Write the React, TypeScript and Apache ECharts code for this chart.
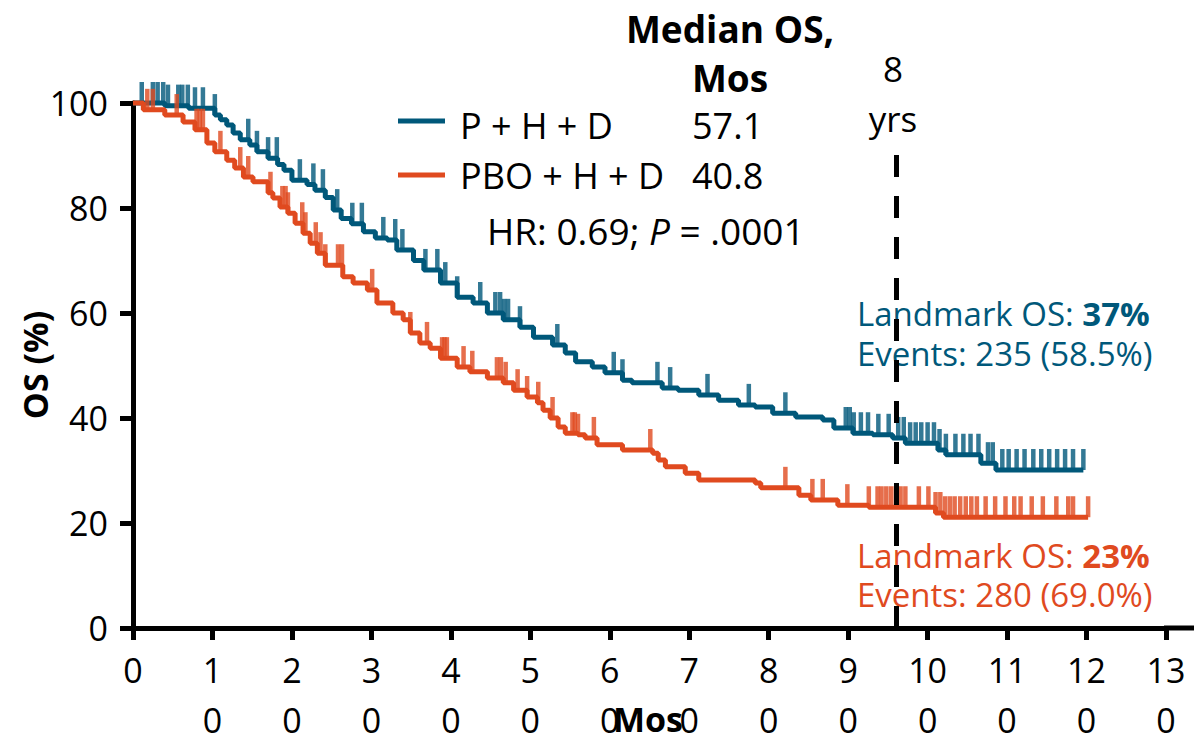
import React, { useEffect, useRef } from "react";
import * as echarts from "echarts";

const FONT = "Open Sans";
const TEAL = "#00587A";
const ORANGE = "#E04A1F";

const xTicks = [0, 10, 20, 30, 40, 50, 60, 70, 80, 90, 100, 110, 120, 130];
const yTicks = [0, 20, 40, 60, 80, 100];

// P + H + D step curve
const tealTime = [0, 4, 7, 10.3, 11, 11.8, 12.6, 13.5, 14.7, 15.6, 17, 18.2, 19, 20, 21.9, 22.9, 24.2, 25.2, 26.2, 27.5, 29, 30.5, 32, 33.2, 35.3, 36.6, 38.7, 40.8, 42.8, 44.6, 46.6, 48.7, 50.4, 52.8, 54.4, 55.7, 57.8, 59.4, 61.6, 62.8, 66.6, 68.6, 71.2, 73.7, 76.2, 78.3, 80.5, 83.4, 86.8, 88.2, 90.6, 93.1, 95.6, 97.2, 101.3, 102.3, 106.7, 108.6, 119.6];
const tealSurv = [100, 99.5, 99, 97.7, 96.8, 95.8, 94.3, 93, 92, 90.7, 89.5, 88.3, 87.2, 85.3, 84.5, 83.4, 82, 79.6, 78, 77, 75.5, 74.3, 73.9, 72, 70, 68.2, 65.7, 63, 61.9, 60, 58.7, 57.3, 55.4, 53.9, 52.4, 50.7, 49.7, 48.6, 47.2, 46.7, 45.7, 45.3, 44.4, 43.4, 42.5, 42.1, 40.9, 40.2, 39.6, 38.1, 37.1, 36.8, 36.2, 35.2, 33.9, 33, 31.4, 30.1, 30.1];
const tealCensor = [1.1, 2.5, 3.1, 3.8, 4.4, 5.7, 6.2, 6.9, 7.8, 8.8, 10.3, 14.5, 15.6, 17, 18.1, 21, 22.7, 23.9, 25.7, 27.6, 28.8, 31.5, 33, 33.9, 36.8, 38.3, 39.3, 40.8, 43.7, 45.6, 46.2, 46.7, 47.2, 48.7, 53.4, 60.5, 61.6, 66, 67.6, 72.3, 77.5, 82.1, 89.7, 90.2, 90.7, 91.6, 92.5, 93.8, 95.1, 96.3, 97, 97.8, 98.5, 99.2, 100, 100.8, 101.5, 102.3, 103.5, 104.5, 105.4, 106.4, 107.6, 108.2, 109.4, 110.2, 111.2, 112.2, 113.3, 114.3, 115.3, 116.3, 117.3, 118.3, 119.6];

// PBO + H + D step curve
const orangeTime = [0, 1.3, 4, 6.3, 7.8, 9.3, 10.3, 11.8, 12.8, 13.9, 15.1, 17, 17.6, 18.5, 19.5, 20.4, 21.4, 22.3, 23.2, 24.2, 26.4, 27.7, 29.5, 30.7, 32.7, 34, 34.9, 36.1, 37.4, 38.7, 40.8, 42.4, 44.6, 46.6, 47.9, 49.6, 50.9, 51.6, 52.5, 53.5, 54.4, 56, 56.9, 58.4, 61.6, 65.4, 66.1, 67, 69.5, 71.2, 78.3, 79, 83.8, 85.3, 88.7, 92.6, 101, 102, 120.2];
const orangeSurv = [100, 98.7, 97.7, 96.4, 94.9, 92.4, 90.7, 89.1, 87.6, 85.9, 85, 82.9, 81.9, 80.2, 79, 77.1, 75.2, 73.3, 71.4, 69.1, 66.9, 65.7, 64.4, 61.9, 60, 58.7, 56.2, 54.3, 53.3, 51.4, 49.7, 48.8, 47.6, 46.7, 45.3, 44, 42.9, 41.5, 40, 38.3, 37.1, 36.8, 36.2, 34.9, 33.9, 33.3, 32, 30.7, 29.5, 28.2, 27.6, 26.7, 25.3, 24.4, 23.4, 23, 21.9, 21.1, 21.1];
const orangeCensor = [1.8, 2.5, 5.5, 8, 8.4, 8.8, 11, 13.5, 14.5, 17.3, 18.8, 19.2, 19.5, 21.3, 21.7, 23, 23.6, 24.2, 25.8, 26.3, 30.1, 34.9, 37, 38.9, 39.2, 39.5, 41.6, 42.7, 45.8, 46.3, 46.9, 48.4, 49.6, 51, 52.8, 55.3, 55.6, 56, 58, 65.1, 82.1, 85.5, 86.8, 89.9, 92.6, 93.7, 94.2, 94.8, 95.4, 96, 96.6, 97.2, 98.9, 100.1, 101, 101.6, 102.2, 102.8, 103.4, 104.1, 104.8, 105.5, 106.2, 107.3, 108.5, 109.8, 110.9, 111.7, 113.1, 114.5, 116.2, 117.7, 118.3, 120.2];

const landmarkMonth = 96;
const landmarkTop = 91.5;

function survAt(times: number[], surv: number[], t: number) {
  let s = surv[0];
  for (let i = 0; i < times.length; i++) {
    if (times[i] <= t) s = surv[i];
  }
  return s;
}

export default function App() {
  const ref = useRef<HTMLDivElement>(null);
  useEffect(() => {
    if (!ref.current) return;
    const chart = echarts.init(ref.current, undefined, { renderer: "svg" });
    const tealLine = tealTime.map((t, i) => [t, tealSurv[i]]);
    const orangeLine = orangeTime.map((t, i) => [t, orangeSurv[i]]);
    const tealMarks = tealCensor.map((t) => [t, survAt(tealTime, tealSurv, t)]);
    const orangeMarks = orangeCensor.map((t) => [t, survAt(orangeTime, orangeSurv, t)]);
    const tickStyle = { fontFamily: FONT, fontSize: 34, color: "#000" };
    const txt = (text: string, x: number, y: number, extra: any = {}, rot = 0) => ({
      type: "text",
      x,
      y,
      rotation: rot,
      style: {
        text,
        fontFamily: FONT,
        fontSize: 36,
        fill: "#000",
        align: "left",
        verticalAlign: "middle",
        ...extra,
      },
    });
    chart.setOption({
      animation: false,
      grid: { left: 133, right: 28, top: 103, bottom: 112, outerBoundsMode: "none", containLabel: false },
      xAxis: {
        type: "value",
        min: xTicks[0],
        max: xTicks[xTicks.length - 1],
        interval: 10,
        axisLine: { show: true, lineStyle: { color: "#000", width: 5 } },
        axisTick: { show: true, length: 12, lineStyle: { color: "#000", width: 5 } },
        axisLabel: {
          ...tickStyle,
          margin: 17,
          lineHeight: 50,
          formatter: (v: number) => {
            const s = String(v);
            return s.length < 2 ? s : s.slice(0, -1) + "\n" + s.slice(-1);
          },
        },
        splitLine: { show: false },
      },
      yAxis: {
        type: "value",
        min: yTicks[0],
        max: yTicks[yTicks.length - 1],
        interval: 20,
        axisLine: { show: true, lineStyle: { color: "#000", width: 5 } },
        axisTick: { show: true, length: 13, lineStyle: { color: "#000", width: 5 } },
        axisLabel: { ...tickStyle, margin: 25 },
        splitLine: { show: false },
      },
      series: [
        {
          type: "line",
          name: "P + H + D",
          step: "end",
          data: tealLine,
          showSymbol: false,
          clip: false,
          lineStyle: { color: TEAL, width: 5 },
          itemStyle: { color: TEAL },
          z: 2,
        },
        {
          type: "scatter",
          data: tealMarks,
          symbol: "rect",
          symbolSize: [4.5, 21],
          symbolOffset: [0, -10.5],
          clip: false,
          itemStyle: { color: TEAL },
          z: 2,
        },
        {
          type: "line",
          name: "PBO + H + D",
          step: "end",
          data: orangeLine,
          showSymbol: false,
          clip: false,
          lineStyle: { color: ORANGE, width: 5 },
          itemStyle: { color: ORANGE },
          z: 3,
          markLine: {
            silent: true,
            symbol: "none",
            label: { show: false },
            lineStyle: { color: "#000", width: 5, type: [22, 19] },
            data: [[{ coord: [landmarkMonth, 0] }, { coord: [landmarkMonth, landmarkTop] }]],
          },
        },
        {
          type: "scatter",
          data: orangeMarks,
          symbol: "rect",
          symbolSize: [4.5, 21],
          symbolOffset: [0, -10.5],
          clip: false,
          itemStyle: { color: ORANGE },
          z: 3,
        },
      ],
      graphic: [
        { type: "line", shape: { x1: 1164, y1: 628, x2: 1194, y2: 628 }, style: { stroke: "#000", lineWidth: 5 } },
        { type: "line", shape: { x1: 398, y1: 121, x2: 445, y2: 121 }, style: { stroke: TEAL, lineWidth: 5 } },
        { type: "line", shape: { x1: 398, y1: 175, x2: 445, y2: 175 }, style: { stroke: ORANGE, lineWidth: 5 } },
        txt("P + H + D", 460, 125),
        txt("57.1", 692, 125),
        txt("PBO + H + D", 460, 175),
        txt("40.8", 692, 175),
        txt("Median OS,", 730, 28, { align: "center", fontWeight: "bold", fontSize: 37 }),
        txt("Mos", 730, 77, { align: "center", fontWeight: "bold", fontSize: 37 }),
        txt("{a|HR: 0.69; }{i|P}{a| = .0001}", 487, 230, {
          rich: {
            a: { fontFamily: FONT, fontSize: 37, fill: "#000" },
            i: { fontFamily: FONT, fontSize: 37, fill: "#000", fontStyle: "italic" },
          },
        }),
        txt("8", 893, 68, { align: "center", fontSize: 35 }),
        txt("yrs", 893, 118, { align: "center", fontSize: 35 }),
        txt("{a|Landmark OS: }{b|37%}", 857, 313, {
          rich: {
            a: { fontFamily: FONT, fontSize: 33, fill: TEAL },
            b: { fontFamily: FONT, fontSize: 33, fill: TEAL, fontWeight: "bold" },
          },
        }),
        txt("Events: 235 (58.5%)", 857, 353, { fontSize: 33, fill: TEAL }),
        txt("{a|Landmark OS: }{b|23%}", 857, 555, {
          rich: {
            a: { fontFamily: FONT, fontSize: 33, fill: ORANGE },
            b: { fontFamily: FONT, fontSize: 33, fill: ORANGE, fontWeight: "bold" },
          },
        }),
        txt("Events: 280 (69.0%)", 857, 594, { fontSize: 33, fill: ORANGE }),
        txt("OS (%)", 35, 365, { align: "center", fontWeight: "bold", fontSize: 34 }, Math.PI / 2),
        txt("Mos", 648, 719, { align: "center", fontWeight: "bold", fontSize: 34 }),
      ],
    });
    return () => chart.dispose();
  }, []);
  return (
    <div
      ref={ref}
      style={{ position: "fixed", left: 0, top: 0, width: 1194, height: 740, background: "#fff" }}
    />
  );
}
